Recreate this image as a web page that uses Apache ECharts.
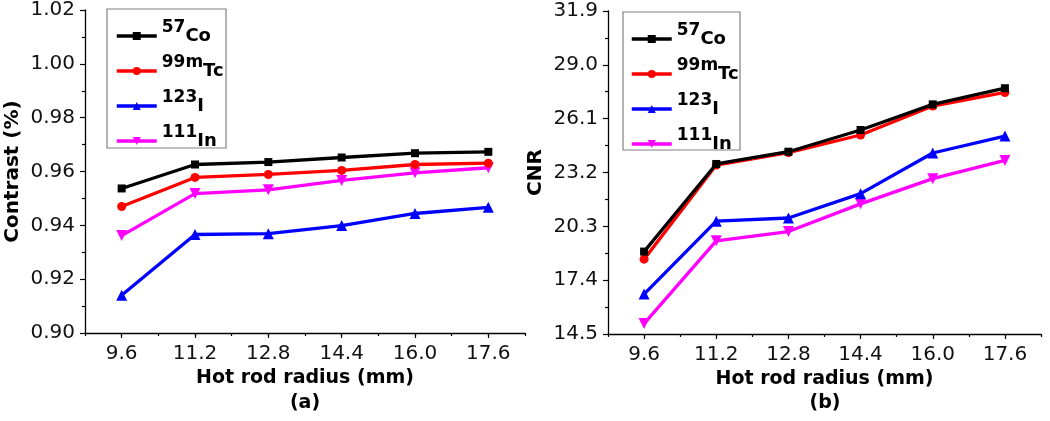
<!DOCTYPE html>
<html>
<head>
<meta charset="utf-8">
<title>Contrast and CNR</title>
<script src="https://cdn.jsdelivr.net/npm/echarts@6/dist/echarts.min.js"></script>
<style>
  html, body { margin: 0; padding: 0; background: #fff; }
  #main { width: 1050px; height: 421px; }
</style>
</head>
<body>
<div id="main"></div>
<script>
// 数据
var radius = [9.6, 11.2, 12.8, 14.4, 16.0, 17.6];
var isoMass = ['57', '99m', '123', '111'];
var isoElem = ['Co', 'Tc', 'I', 'In'];
var isoNames = ['57Co', '99mTc', '123I', '111In'];

// (a) Contrast
var contrastCo = [0.9537, 0.9626, 0.9635, 0.9652, 0.9668, 0.9673];
var contrastTc = [0.9470, 0.9578, 0.9589, 0.9604, 0.9626, 0.9631];
var contrastI  = [0.9140, 0.9366, 0.9369, 0.9399, 0.9444, 0.9467];
var contrastIn = [0.9362, 0.9518, 0.9532, 0.9567, 0.9595, 0.9614];

// (b) CNR
var cnrCo = [18.94, 23.66, 24.32, 25.49, 26.87, 27.74];
var cnrTc = [18.53, 23.60, 24.27, 25.22, 26.78, 27.51];
var cnrI  = [16.65, 20.58, 20.75, 22.06, 24.25, 25.16];
var cnrIn = [15.06, 19.52, 20.02, 21.51, 22.87, 23.85];

var colors = ['#000000', '#ff0000', '#0000ff', '#ff00ff'];
var symbols = ['rect', 'circle', 'triangle', 'path://M0,0 L10,0 L5,10 Z'];
var symbolSizes = [8, 9, 11, 11];

var FONT = 'DejaVu Sans';

function pairs(ys){
	var out = [];
	for(var i=0;i<radius.length;i++){
		out.push([radius[i], ys[i]]);
	}
	return out;
}

function makeSeries(list, xIdx, yIdx){
	var arr = [];
	for(var i=0;i<list.length;i++){
		arr.push({
			name: isoNames[i],
			type: 'line',
			xAxisIndex: xIdx,
			yAxisIndex: yIdx,
			data: pairs(list[i]),
			symbol: symbols[i],
			symbolSize: symbolSizes[i],
			color: colors[i],
			lineStyle: { width: 3.3, color: colors[i] },
			itemStyle: { color: colors[i] },
			z: 10 - i
		});
	}
	return arr;
}

// x轴: 标签轴 + 小刻度轴
function xLabelAxis(gridIdx){
	return {
		type: 'value',
		gridIndex: gridIdx,
		position: 'bottom',
		min: 8.8,
		max: 18.4,
		interval: 0.8,
		name: 'Hot rod radius (mm)',
		nameLocation: 'middle',
		nameGap: 31,
		nameTextStyle: { fontFamily: FONT, fontWeight: 'bold', fontSize: 19, color: '#000' },
		axisLine: { show: true, lineStyle: { color: '#000', width: 1.3 } },
		axisTick: { show: true, inside: false, length: 5, customValues: radius, lineStyle: { color: '#000', width: 1.2 } },
		axisLabel: {
			show: true, margin: 11, customValues: radius,
			fontFamily: FONT, fontSize: 20, color: '#111',
			formatter: function(v){ return v.toFixed(1); }
		},
		splitLine: { show: false }
	};
}
function xMinorAxis(gridIdx){
	return {
		type: 'value',
		gridIndex: gridIdx,
		position: 'bottom',
		min: 8.8,
		max: 18.4,
		interval: 0.8,
		axisLine: { show: false },
		axisTick: { show: true, length: 3, lineStyle: { color: '#000', width: 1.2 } },
		axisLabel: { show: false },
		splitLine: { show: false }
	};
}

function yAxisOf(gridIdx, name, min, max, step, digits){
	return {
		type: 'value',
		gridIndex: gridIdx,
		min: min,
		max: max,
		interval: step,
		name: name,
		nameLocation: 'middle',
		nameGap: 62,
		nameTextStyle: { fontFamily: FONT, fontWeight: 'bold', fontSize: 20, color: '#000' },
		axisLine: { show: true, lineStyle: { color: '#000', width: 1.3 } },
		axisTick: { show: true, length: 5, lineStyle: { color: '#000', width: 1.2 } },
		minorTick: { show: true, splitNumber: 2, length: 3, lineStyle: { color: '#000', width: 1.2 } },
		axisLabel: {
			margin: 10, fontFamily: FONT, fontSize: 20, color: '#111',
			formatter: function(v){ return v.toFixed(digits); }
		},
		splitLine: { show: false }
	};
}

function legendOf(gridIdx, left, top){
	return {
		data: isoNames,
		orient: 'vertical',
		left: left,
		top: top,
		padding: 0,
		itemWidth: 40,
		itemHeight: 10,
		itemGap: 9,
		itemTextGap: 5,
		selectedMode: false,
		lineStyle: { width: 3.5 },
		formatter: function(name){
			var k = isoNames.indexOf(name);
			return '{s|' + isoMass[k] + '}{e|' + isoElem[k] + '}';
		},
		textStyle: {
			color: '#000',
			rich: {
				s: { fontFamily: FONT, fontWeight: 'bold', fontSize: 17, lineHeight: 16, verticalAlign: 'top', color: '#000' },
				e: { fontFamily: FONT, fontWeight: 'bold', fontSize: 18, lineHeight: 34, verticalAlign: 'middle', color: '#000' }
			}
		}
	};
}

var myChart = echarts.init(document.getElementById('main'), null, { renderer: 'canvas' });

var series = [].concat(
	makeSeries([contrastCo, contrastTc, contrastI, contrastIn], 0, 0),
	makeSeries([cnrCo, cnrTc, cnrI, cnrIn], 2, 1)
);

var option = {
	backgroundColor: '#ffffff',
	animation: false,
	grid: [
		{ left: 85, top: 10, width: 440, height: 323 },
		{ left: 608, top: 11, width: 433, height: 323 }
	],
	xAxis: [xLabelAxis(0), xMinorAxis(0), xLabelAxis(1), xMinorAxis(1)],
	yAxis: [
		yAxisOf(0, 'Contrast (%)', 0.90, 1.02, 0.02, 2),
		yAxisOf(1, 'CNR', 14.5, 31.9, 2.9, 1)
	],
	legend: [legendOf(0, 115, 19), legendOf(1, 630, 22)],
	graphic: [
		{ type: 'rect', shape: { x: 107, y: 9, width: 119, height: 139 }, style: { fill: null, stroke: '#808080', lineWidth: 1.2 }, z: 1 },
		{ type: 'rect', shape: { x: 623, y: 12, width: 117, height: 138 }, style: { fill: null, stroke: '#808080', lineWidth: 1.2 }, z: 1 },
		{ type: 'text', x: 305, y: 403, style: { text: '(a)', fontFamily: FONT, fontWeight: 'bold', fontSize: 19, fill: '#000', align: 'center', verticalAlign: 'middle' } },
		{ type: 'text', x: 825, y: 403, style: { text: '(b)', fontFamily: FONT, fontWeight: 'bold', fontSize: 19, fill: '#000', align: 'center', verticalAlign: 'middle' } }
	],
	series: series
};

myChart.setOption(option);
</script>
</body>
</html>
